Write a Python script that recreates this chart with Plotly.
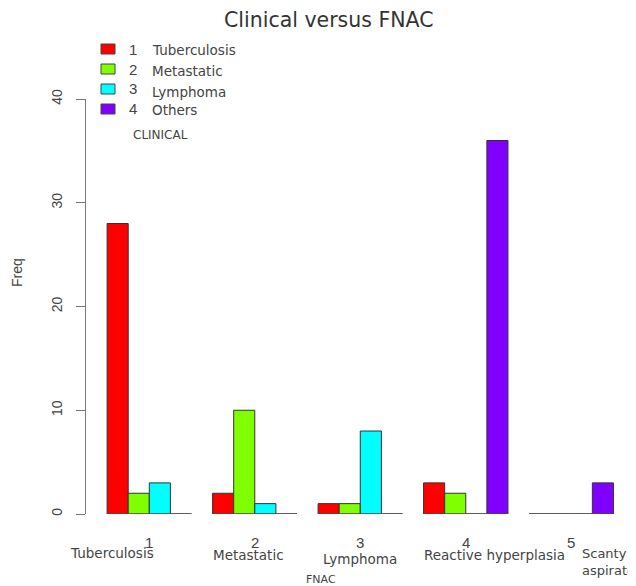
import plotly.graph_objects as go

# ---- data ----
fnac_codes = ["1", "2", "3", "4", "5"]
fnac_names = ["Tuberculosis", "Metastatic", "Lymphoma", "Reactive hyperplasia", "Scanty<br>aspirate"]
clinical_codes = ["1", "2", "3", "4"]
clinical_names = ["Tuberculosis", "Metastatic", "Lymphoma", "Others"]
freq_tuberculosis = [28, 2, 1, 3, 0]
freq_metastatic = [2, 10, 1, 2, 0]
freq_lymphoma = [3, 1, 8, 0, 0]
freq_others = [0, 0, 0, 36, 3]
y_ticks = [0, 10, 20, 30, 40]

series = [freq_tuberculosis, freq_metastatic, freq_lymphoma, freq_others]
colors = ["#FF0000", "#80FF00", "#00FFFF", "#8000FF"]

# page body has an 8px margin; figure sized to fit inside the window
OFF = 8
W, H = 636 - OFF, 586 - OFF
ML, MR, MT, MB = 86 - OFF, 12, 99 - OFF, 72
PW, PH = W - ML - MR, H - MT - MB


def px(x):
    # x in window pixels -> paper coordinate
    return (x - OFF - ML) / PW


def py(y):
    # y in window pixels -> paper coordinate
    return (H - MB - (y - OFF)) / PH


fig = go.Figure()
for name, vals, col in zip(clinical_codes, series, colors):
    fig.add_trace(go.Bar(
        x=fnac_codes, y=vals, name=name,
        marker=dict(color=col, line=dict(color="#333333", width=1)),
        showlegend=False,
    ))

shapes = []
annotations = []

# baseline under each group (zero-height bars drawn as lines in R)
for i in range(len(fnac_codes)):
    shapes.append(dict(type="line", xref="x", yref="y", x0=i - 0.4, x1=i + 0.4,
                       y0=0, y1=0, line=dict(color="#555555", width=1), layer="above"))

# group numbers under groups
for i, c in enumerate(fnac_codes):
    annotations.append(dict(x=i, y=py(542), xref="x", yref="paper", text=c, showarrow=False,
                            xanchor="center", yanchor="middle",
                            font=dict(family="Liberation Sans", size=15, color="#444444")))

# category names (hand-placed in original)
label_dx = [-0.35, -0.055, 0.0, 0.27, 0.085]
label_y = [553, 555, 559, 555, 561.5]
label_anchor = ["center", "center", "center", "center", "left"]
label_size = [13.5, 13.5, 13.5, 13.5, 13]
for i, (nm, dx, ly, anc, fs) in enumerate(zip(fnac_names, label_dx, label_y, label_anchor, label_size)):
    annotations.append(dict(x=i + dx, y=py(ly), xref="x", yref="paper", text=nm, showarrow=False,
                            xanchor=anc, yanchor="middle", align="left",
                            font=dict(family="DejaVu Sans", size=fs, color="#444444")))

# axis titles
annotations.append(dict(x=px(321), y=py(579), xref="paper", yref="paper", text="FNAC",
                        showarrow=False, xanchor="center", yanchor="middle",
                        font=dict(family="DejaVu Sans", size=11, color="#444444")))
annotations.append(dict(x=px(17), y=py(273), xref="paper", yref="paper", text="Freq",
                        showarrow=False, xanchor="center", yanchor="middle", textangle=-90,
                        font=dict(family="Liberation Sans", size=14, color="#444444")))
# title
annotations.append(dict(x=px(329), y=py(20), xref="paper", yref="paper", text="Clinical versus FNAC",
                        showarrow=False, xanchor="center", yanchor="middle",
                        font=dict(family="DejaVu Sans", size=20.5, color="#333333")))

# manual legend
row_y = [49, 69, 89, 109]
lab_y = [50, 71, 92, 110]
for k, (code, nm, col) in enumerate(zip(clinical_codes, clinical_names, colors)):
    shapes.append(dict(type="rect", xref="paper", yref="paper",
                       x0=px(101), x1=px(115), y0=py(row_y[k] - 5), y1=py(row_y[k] + 5),
                       fillcolor=col, line=dict(color="#444444", width=1)))
    annotations.append(dict(x=px(133), y=py(row_y[k]), xref="paper", yref="paper", text=code,
                            showarrow=False, xanchor="center", yanchor="middle",
                            font=dict(family="Liberation Sans", size=15, color="#444444")))
    annotations.append(dict(x=px(150), y=py(lab_y[k]), xref="paper", yref="paper", text=nm,
                            showarrow=False, xanchor="left", yanchor="middle",
                            font=dict(family="DejaVu Sans", size=13.5, color="#444444")))
annotations.append(dict(x=px(131), y=py(135), xref="paper", yref="paper", text="CLINICAL",
                        showarrow=False, xanchor="left", yanchor="middle",
                        font=dict(family="DejaVu Sans", size=12, color="#444444")))

fig.update_layout(
    width=W, height=H,
    margin=dict(l=ML, r=MR, t=MT, b=MB, pad=0),
    paper_bgcolor="white", plot_bgcolor="white",
    barmode="group", bargap=0.2, bargroupgap=0,
    shapes=shapes, annotations=annotations,
    showlegend=False,
    xaxis=dict(type="category", range=[-0.6, 4.5], showticklabels=False, showline=False,
               showgrid=False, zeroline=False, ticks=""),
    yaxis=dict(range=[0, 40], tickvals=y_ticks, ticktext=[str(v) for v in y_ticks],
               showline=True, linecolor="#777777", linewidth=1,
               ticks="outside", ticklen=9, tickcolor="#777777", tickwidth=1,
               tickangle=-90, ticklabelstandoff=8,
               tickfont=dict(family="Liberation Sans", size=14, color="#444444"),
               showgrid=False, zeroline=False),
)

fig.write_html("out.html")
